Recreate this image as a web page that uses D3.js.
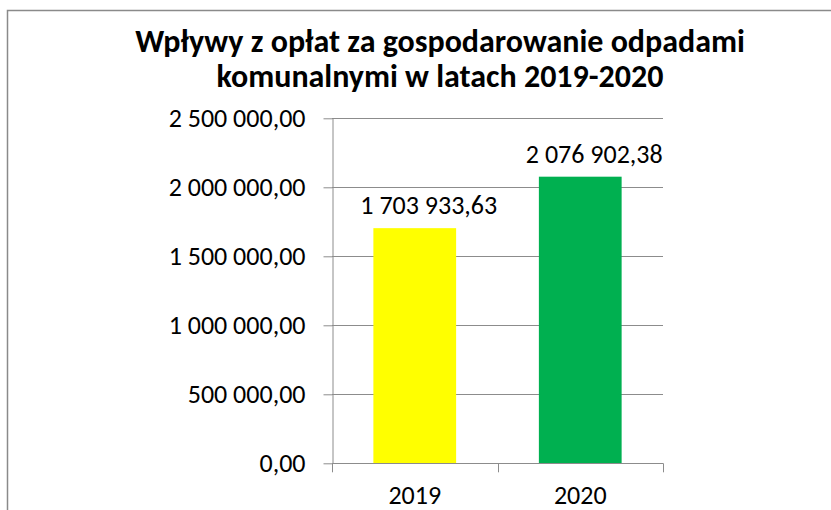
<!DOCTYPE html>
<html>
<head>
<meta charset="utf-8">
<script src="https://cdn.jsdelivr.net/npm/d3@7"></script>
<style>
  html, body { margin: 0; padding: 0; background: #fff; }
  svg { display: block; }
  text { font-family: Carlito, Calibri, Lato, sans-serif; fill: #000; }
</style>
</head>
<body>
<svg id="chart" width="831" height="510"></svg>
<script>
const titleLines = ["Wpływy z opłat za gospodarowanie odpadami", "komunalnymi w latach 2019-2020"];
const categories = ["2019", "2020"];
const values = [1703933.63, 2076902.38];
const barColors = ["#FFFF00", "#00B050"];
const yTicks = [0, 500000, 1000000, 1500000, 2000000, 2500000];

const W = 831, H = 510;
const plot = { left: 332, right: 663, top: 118.3, bottom: 463.3 };
const gridColor = "#8c8c8c";
const fontFam = 'Carlito, Calibri, Lato, sans-serif';
const labelSize = 26;

const svg = d3.select("#chart");
const locale = d3.formatLocale({ decimal: ",", thousands: "\u00a0", grouping: [3], currency: ["", " zł"] });
const fmt = locale.format(",.2f");

// outer frame (top and left visible)
svg.append("rect")
  .attr("x", 7.5).attr("y", 10.5)
  .attr("width", 900).attr("height", 600)
  .attr("fill", "none").attr("stroke", "#8a8a8a").attr("stroke-width", 1.5);

// title (two lines)
svg.append("g").selectAll("text").data(titleLines).join("text")
  .attr("x", 440)
  .attr("y", (d, i) => 52 + i * 35)
  .attr("text-anchor", "middle")
  .attr("font-weight", "bold")
  .attr("font-size", 32)
  .text(d => d);

const y = d3.scaleLinear().domain([0, 2500000]).range([plot.bottom, plot.top]);
const x = d3.scaleBand().domain(categories).range([plot.left, plot.right])
  .paddingInner(0.5).paddingOuter(0.25);

// gridlines
svg.append("g").selectAll("line").data(yTicks.filter(d => d > 0)).join("line")
  .attr("x1", plot.left).attr("x2", plot.right)
  .attr("y1", d => Math.round(y(d)) + 0.5).attr("y2", d => Math.round(y(d)) + 0.5)
  .attr("stroke", gridColor).attr("stroke-width", 1);

// bars
svg.append("g").selectAll("rect").data(categories).join("rect")
  .attr("x", d => x(d))
  .attr("width", x.bandwidth())
  .attr("y", (d, i) => y(values[i]))
  .attr("height", (d, i) => y(0) - y(values[i]))
  .attr("fill", (d, i) => barColors[i]);

// y axis
const yAxis = svg.append("g")
  .attr("transform", `translate(${plot.left + 0.5},0)`)
  .call(d3.axisLeft(y).tickValues(yTicks).tickFormat(fmt).tickSizeOuter(0).tickSizeInner(9).tickPadding(18));
yAxis.select(".domain").attr("stroke", gridColor);
yAxis.selectAll(".tick line").attr("stroke", gridColor);
yAxis.selectAll(".tick text")
  .attr("font-size", labelSize).attr("fill", "#000")
  .style("font-family", fontFam);

// x axis
const step = x.step();
const bounds = d3.range(categories.length + 1).map(i => plot.left + i * step);
const xg = svg.append("g");
xg.append("line")
  .attr("x1", plot.left).attr("x2", plot.right)
  .attr("y1", Math.round(y(0)) + 0.5).attr("y2", Math.round(y(0)) + 0.5)
  .attr("stroke", gridColor);
xg.selectAll("line.tk").data(bounds).join("line").attr("class", "tk")
  .attr("x1", d => Math.round(d) + 0.5).attr("x2", d => Math.round(d) + 0.5)
  .attr("y1", y(0)).attr("y2", y(0) + 9)
  .attr("stroke", gridColor);
xg.selectAll("text").data(categories).join("text")
  .attr("x", d => x(d) + x.bandwidth() / 2)
  .attr("y", 504)
  .attr("text-anchor", "middle")
  .attr("font-size", labelSize)
  .text(d => d);

// value labels
svg.append("g").selectAll("text").data(categories).join("text")
  .attr("x", d => x(d) + x.bandwidth() / 2 + 14)
  .attr("y", (d, i) => y(values[i]) - 14)
  .attr("text-anchor", "middle")
  .attr("font-size", labelSize)
  .text((d, i) => fmt(values[i]));
</script>
</body>
</html>
